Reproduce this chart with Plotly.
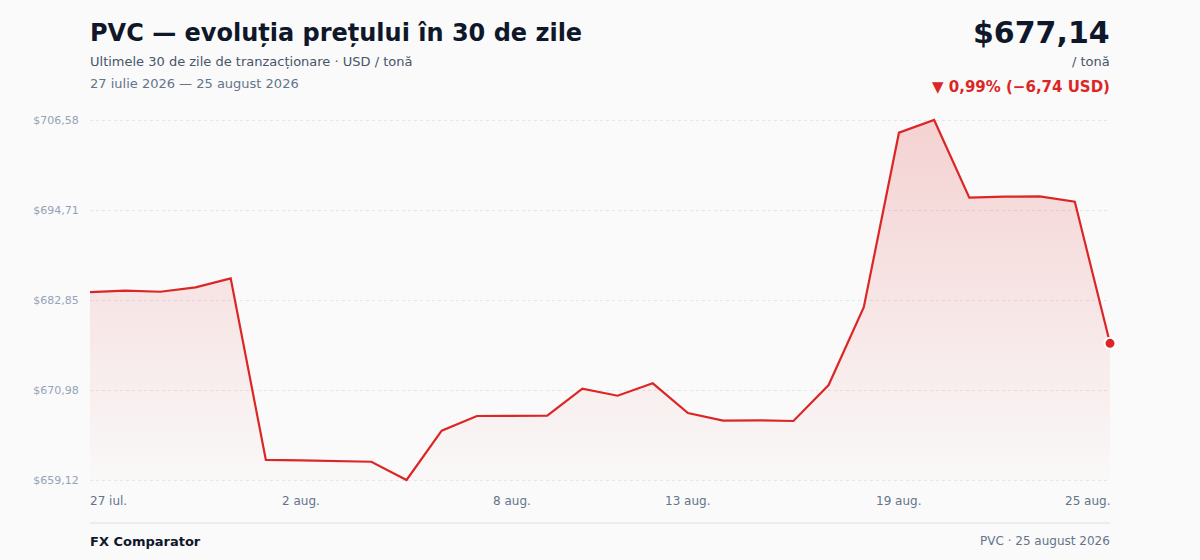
import plotly.graph_objects as go

# daily PVC price, USD / tonne, 27 Jul - 25 Aug 2026
dates = [
    "2026-07-27", "2026-07-28", "2026-07-29", "2026-07-30", "2026-07-31",
    "2026-08-01", "2026-08-02", "2026-08-03", "2026-08-04", "2026-08-05",
    "2026-08-06", "2026-08-07", "2026-08-08", "2026-08-09", "2026-08-10",
    "2026-08-11", "2026-08-12", "2026-08-13", "2026-08-14", "2026-08-15",
    "2026-08-16", "2026-08-17", "2026-08-18", "2026-08-19", "2026-08-20",
    "2026-08-21", "2026-08-22", "2026-08-23", "2026-08-24", "2026-08-25",
]
prices = [
    683.88, 684.08, 683.94, 684.52, 685.71,
    661.76, 661.72, 661.62, 661.53, 659.12,
    665.62, 667.56, 667.58, 667.60, 671.16,
    670.23, 671.87, 667.95, 666.94, 666.99,
    666.90, 671.64, 681.89, 704.91, 706.58,
    696.34, 696.47, 696.50, 695.81, 677.14,
]

# y axis ticks
y_ticks = [659.12, 670.985, 682.85, 694.715, 706.58]
y_tick_labels = ["$659,12", "$670,98", "$682,85", "$694,71", "$706,58"]

# x axis ticks
x_ticks = ["2026-07-27", "2026-08-02", "2026-08-08", "2026-08-13", "2026-08-19", "2026-08-25"]
x_tick_labels = ["27 iul.", "2 aug.", "8 aug.", "13 aug.", "19 aug.", "25 aug."]

RED = "#dc2626"
FONT = "DejaVu Sans"
BG = "#fafafa"

y_low = min(prices)
y_high = max(prices)
# 2px of padding above/below so the edge grid lines are not clipped
pad = (y_high - y_low) / 360 * 2

fig = go.Figure()

# invisible baseline so the gradient fill stops at the lowest tick
fig.add_trace(go.Scatter(
    x=dates, y=[y_low] * len(dates), mode="lines",
    line=dict(width=0, color="rgba(0,0,0,0)"),
    hoverinfo="skip", showlegend=False,
))
fig.add_trace(go.Scatter(
    x=dates, y=prices, mode="lines",
    line=dict(color=RED, width=2.2),
    fill="tonexty",
    fillgradient=dict(
        type="vertical",
        colorscale=[[0, "rgba(220,38,38,0.01)"], [1, "rgba(220,38,38,0.19)"]],
    ),
    showlegend=False,
))
# last point marker
fig.add_trace(go.Scatter(
    x=[dates[-1]], y=[prices[-1]], mode="markers",
    marker=dict(color=RED, size=11, line=dict(color="white", width=2)),
    showlegend=False, cliponaxis=False,
))

fig.update_layout(
    width=1200, height=560,
    margin=dict(l=90, r=90, t=118, b=78),
    paper_bgcolor=BG,
    plot_bgcolor=BG,
    font=dict(family=FONT, color="#0f172a"),
    showlegend=False,
)

fig.update_xaxes(
    type="date",
    range=[dates[0], dates[-1]],
    showgrid=False, zeroline=False, showline=False,
    showticklabels=False,
)
fig.update_yaxes(
    range=[y_low - pad, y_high + pad],
    tickvals=y_ticks, ticktext=y_tick_labels,
    tickfont=dict(size=11, color="#94a3b8", family=FONT),
    ticks="outside", ticklen=8, tickcolor="rgba(0,0,0,0)",
    showgrid=True, gridcolor="#e2e5ea", griddash="dot", gridwidth=1,
    zeroline=False, showline=False, layer="above traces",
)

# x tick labels, first left-aligned and last right-aligned
for i, (d, lab) in enumerate(zip(x_ticks, x_tick_labels)):
    anchor, shift = "center", 0
    if i == 0:
        anchor, shift = "left", -2
    elif i == len(x_ticks) - 1:
        anchor, shift = "right", 2
    fig.add_annotation(
        x=d, y=0, xref="x", yref="paper", text=lab, showarrow=False,
        xanchor=anchor, yanchor="top", yshift=-10, xshift=shift,
        font=dict(size=12, color="#64748b", family=FONT),
    )

# header text
fig.add_annotation(
    x=0, y=1, xref="paper", yref="paper", xanchor="left", yanchor="middle",
    text="<b>PVC — evoluția prețului în 30 de zile</b>", xshift=-2,
    showarrow=False, yshift=85, font=dict(size=24, color="#0f172a", family=FONT),
)
fig.add_annotation(
    x=0, y=1, xref="paper", yref="paper", xanchor="left", yanchor="middle",
    text="Ultimele 30 de zile de tranzacționare · USD / tonă", xshift=-2,
    showarrow=False, yshift=57, font=dict(size=13, color="#475569", family=FONT),
)
fig.add_annotation(
    x=0, y=1, xref="paper", yref="paper", xanchor="left", yanchor="middle",
    text="27 iulie 2026 — 25 august 2026", xshift=-2,
    showarrow=False, yshift=35, font=dict(size=13, color="#64748b", family=FONT),
)
fig.add_annotation(
    x=1, y=1, xref="paper", yref="paper", xanchor="right", yanchor="middle",
    text="<b>$677,14</b>", xshift=2,
    showarrow=False, yshift=86, font=dict(size=30, color="#0f172a", family=FONT),
)
fig.add_annotation(
    x=1, y=1, xref="paper", yref="paper", xanchor="right", yanchor="middle",
    text="/ tonă", xshift=2,
    showarrow=False, yshift=57, font=dict(size=13, color="#475569", family=FONT),
)
fig.add_annotation(
    x=1, y=1, xref="paper", yref="paper", xanchor="right", yanchor="middle",
    text="<b>▼ 0,99% (−6,74 USD)</b>", xshift=2,
    showarrow=False, yshift=31, font=dict(size=15, color=RED, family=FONT),
)

# footer
fig.add_shape(
    type="line", xref="paper", yref="paper", x0=0, x1=1, y0=-41 / 364, y1=-41 / 364,
    line=dict(color="#e5e7eb", width=1.5),
)
fig.add_annotation(
    x=0, y=0, xref="paper", yref="paper", xanchor="left", yanchor="middle",
    text="<b>FX Comparator</b>", xshift=-2,
    showarrow=False, yshift=-59, font=dict(size=13, color="#0f172a", family=FONT),
)
fig.add_annotation(
    x=1, y=0, xref="paper", yref="paper", xanchor="right", yanchor="middle",
    text="PVC · 25 august 2026", xshift=2,
    showarrow=False, yshift=-59, font=dict(size=12, color="#64748b", family=FONT),
)

fig.write_html(
    "out.html",
    config={"displayModeBar": False},
    post_script="document.body.style.margin='0';document.body.style.background='%s';" % BG,
)
